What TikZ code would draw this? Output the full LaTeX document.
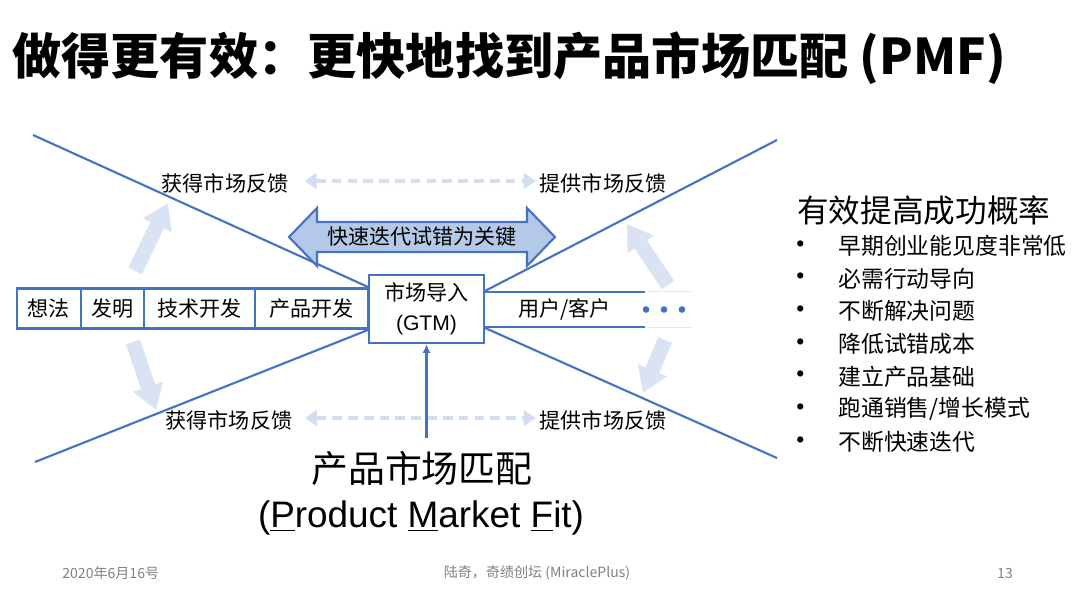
\documentclass[tikz,border=0pt]{standalone}
\usepackage{fontspec}
\setmainfont{Noto Sans CJK SC}
\newfontfamily\latin{Liberation Sans}
\usetikzlibrary{arrows.meta,calc}
\definecolor{lineblue}{HTML}{4472C4}
\definecolor{paleblue}{HTML}{DAE3F3}
\definecolor{dashblue}{HTML}{D3DEF1}
\definecolor{bandblue}{HTML}{B4C9E8}
\definecolor{faintgray}{HTML}{E6EAF2}
\definecolor{footgray}{HTML}{808080}

\begin{document}
\begin{tikzpicture}[x=0.02cm, y=-0.02cm, >=Triangle,
	lbl/.style={font=\fontsize{12}{14}\selectfont, inner sep=1pt},
	cell/.style={draw=lineblue, line width=1.2pt, minimum height=0.8cm, inner sep=0pt, font=\fontsize{12}{17}\selectfont},
	xline/.style={lineblue, line width=1.2pt},
	fbarrow/.style={dashblue, line width=1.8pt, dash pattern=on 5.5pt off 3.5pt, {Triangle[width=9pt,length=7pt]}-{Triangle[width=9pt,length=7pt]}},
	bigarrow/.style={paleblue, line width=8.5pt, -{Triangle[width=17pt,length=14pt]}},
	listitem/.style={font=\fontsize{13}{15}\selectfont, anchor=west, inner sep=0pt},
	foot/.style={font=\fontsize{8}{10}\selectfont, text=footgray, inner sep=0pt}]
			\useasboundingbox (0,0) rectangle (1080,598);
			
			% ========== 标题 ==========
			\node[anchor=west, font=\fontsize{28}{32}\selectfont\bfseries, inner sep=0pt] (title) at (12,58) {做得更有效：更快地找到产品市场匹配 (PMF)};
			
			% ========== 反馈箭头 ==========
			\draw[bigarrow] (135,271) -- (168,203);
			\draw[bigarrow] (133,342) -- (156,410);
			\draw[bigarrow] (668,285) -- (627,224);
			\draw[bigarrow] (665,340) -- (643,393);
			
			\coordinate (tl) at (33,135);
			\coordinate (bl) at (35,462);
			\coordinate (tr) at (777,140);
			\coordinate (br) at (777,458);
			
			% ========== 中间一行 ==========
			\node[cell, minimum width=1.28cm] (idea) at (49,308.5) {想法};
			\node[cell, minimum width=1.26cm] (invent) at (112.5,308.5) {发明};
			\node[cell, minimum width=2.22cm] (tech) at (199.5,308.5) {技术开发};
			\node[cell, minimum width=2.26cm] (prod) at (311.5,308.5) {产品开发};
			\node[cell, fill=white, minimum width=2.3cm, minimum height=1.36cm, align=center] (gtm) at (426.5,309) {市场导入\\{\latin (GTM)}};
			\node[lbl, minimum width=3.22cm, minimum height=0.7cm] (user) at (564.5,309.5) {用户/客户};
			
			\draw[xline] (user.north west) -- (user.north east);
			\draw[xline] (user.south west) -- (user.south east);
			\draw[faintgray, thin] (user.north east) -- ++(47,0);
			\draw[faintgray, thin] (user.south east) -- ++(47,0);
			\foreach \x in {646,664,682}
				\fill[lineblue] (\x,309.5) circle (1.9pt);
			
			\draw[xline] (tl) -- (prod.north east);
			\draw[xline] (bl) -- (prod.south east);
			\draw[xline] (user.north west) -- (tr);
			\draw[xline] (user.south west) -- (br);
			
			% ========== 市场反馈 ==========
			\node[lbl] (gettop) at (225,183) {获得市场反馈};
			\node[lbl] (givetop) at (603,183) {提供市场反馈};
			\node[lbl] (getbot) at (229,420) {获得市场反馈};
			\node[lbl] (givebot) at (603,420) {提供市场反馈};
			\draw[fbarrow, shorten <=8pt, shorten >=1pt] ($(gettop.east)+(0,-2)$) -- ($(givetop.west)+(0,-2)$);
			\draw[fbarrow, shorten <=6pt, shorten >=1pt] ($(getbot.east)+(0,-2)$) -- ($(givebot.west)+(0,-2)$);
			
			% ========== 迭代 ==========
			\draw[lineblue, fill=bandblue, line width=1.2pt] (289,237) -- (317,208) -- (317,222) -- (527,222) -- (527,208) -- (555,237) -- (527,266) -- (527,252) -- (317,252) -- (317,266) -- cycle;
			\node[lbl] (key) at (422,237) {快速迭代试错为关键};
			
			% ========== PMF ==========
			\node[font=\fontsize{21}{25}\selectfont, inner sep=0pt] (pmf) at (422,468) {产品市场匹配};
			\node[font=\latin\fontsize{21}{25}\selectfont, inner sep=0pt] (pmfen) at (421,518) {(\underline{P}roduct \underline{M}arket \underline{F}it)};
			\draw[xline, -{Latex[length=5pt,width=4.5pt]}, shorten <=7pt] (gtm.south |- pmf.north) -- (gtm.south);
			
			% ========== 右侧列表 ==========
			\node[anchor=west, font=\fontsize{18}{20}\selectfont, inner sep=0pt] (raise) at (797,210) {有效提高成功概率};
			\foreach \txt [count=\i] in {早期创业能见度非常低, 必需行动导向, 不断解决问题, 降低试错成本, 建立产品基础, 跑通销售/增长模式, 不断快速迭代} {
				\node[listitem] (bul\i) at (796,{213+32.7*\i}) {\latin •};
				\node[listitem] (it\i) at (838,{213+32.7*\i}) {\txt};
			}
			
			% ========== 页脚 ==========
			\node[foot, anchor=west] (date) at (62,573) {2020年6月16号};
			\node[foot] (credit) at (537,573) {陆奇，奇绩创坛 (MiraclePlus)};
			\node[foot] (page) at (1005,573) {13};
		\end{tikzpicture}
\end{document}
